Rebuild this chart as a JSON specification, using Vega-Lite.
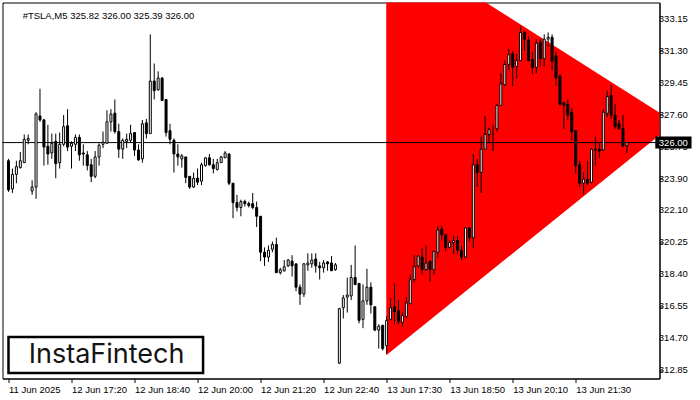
{
  "$schema": "https://vega.github.io/schema/vega-lite/v6.json",
  "width": 657,
  "height": 376,
  "autosize": {"type": "none"},
  "padding": {"left": 2.5, "top": 2.5, "right": 40.5, "bottom": 21.5},
  "background": "white",
  "config": {
    "view": {"stroke": "black", "strokeWidth": 1},
    "axis": {"labelFont": "Liberation Sans", "labelFontSize": 9.5, "labelColor": "black", "domainColor": "black", "tickColor": "black", "grid": false}
  },
  "datasets": {
    "candles": [
      {"i":0,"o":324.95,"h":325.06,"l":323.15,"c":323.26},
      {"i":1,"o":323.32,"h":324.50,"l":323.09,"c":324.16},
      {"i":2,"o":324.16,"h":324.95,"l":323.65,"c":324.61},
      {"i":3,"o":324.55,"h":325.45,"l":324.50,"c":324.95},
      {"i":4,"o":324.84,"h":326.47,"l":324.84,"c":326.19},
      {"i":5,"o":326.13,"h":326.47,"l":325.90,"c":326.24},
      {"i":6,"o":323.20,"h":323.82,"l":322.98,"c":323.43},
      {"i":7,"o":323.43,"h":327.76,"l":322.75,"c":327.65},
      {"i":8,"o":327.54,"h":329.11,"l":327.20,"c":327.31},
      {"i":9,"o":327.31,"h":327.37,"l":324.67,"c":325.74},
      {"i":10,"o":325.79,"h":327.03,"l":324.72,"c":325.34},
      {"i":11,"o":325.40,"h":326.52,"l":325.06,"c":325.96},
      {"i":12,"o":326.07,"h":326.52,"l":323.94,"c":324.78},
      {"i":13,"o":324.84,"h":326.58,"l":324.50,"c":325.90},
      {"i":14,"o":325.90,"h":327.59,"l":325.79,"c":326.92},
      {"i":15,"o":326.97,"h":327.93,"l":325.51,"c":325.74},
      {"i":16,"o":325.79,"h":326.07,"l":324.50,"c":325.96},
      {"i":17,"o":325.90,"h":326.47,"l":325.51,"c":326.30},
      {"i":18,"o":326.30,"h":326.47,"l":324.95,"c":325.29},
      {"i":19,"o":325.40,"h":325.90,"l":324.67,"c":325.34},
      {"i":20,"o":325.29,"h":325.51,"l":324.39,"c":324.67},
      {"i":21,"o":324.72,"h":325.06,"l":323.71,"c":324.05},
      {"i":22,"o":324.05,"h":325.51,"l":323.94,"c":325.17},
      {"i":23,"o":325.17,"h":325.96,"l":324.67,"c":325.85},
      {"i":24,"o":325.90,"h":326.64,"l":325.68,"c":326.02},
      {"i":25,"o":325.96,"h":327.87,"l":325.96,"c":327.20},
      {"i":26,"o":327.20,"h":327.93,"l":326.64,"c":327.65},
      {"i":27,"o":327.70,"h":328.49,"l":326.52,"c":326.64},
      {"i":28,"o":326.64,"h":327.09,"l":325.12,"c":325.62},
      {"i":29,"o":325.62,"h":326.24,"l":325.06,"c":326.13},
      {"i":30,"o":326.07,"h":326.52,"l":325.68,"c":326.19},
      {"i":31,"o":326.13,"h":327.03,"l":326.02,"c":326.52},
      {"i":32,"o":326.58,"h":326.58,"l":325.23,"c":325.57},
      {"i":33,"o":325.57,"h":325.90,"l":324.95,"c":325.00},
      {"i":34,"o":325.06,"h":327.31,"l":324.84,"c":327.09},
      {"i":35,"o":327.14,"h":327.37,"l":326.24,"c":326.52},
      {"i":36,"o":326.52,"h":332.26,"l":326.52,"c":329.56},
      {"i":37,"o":329.56,"h":330.57,"l":328.49,"c":329.00},
      {"i":38,"o":329.05,"h":330.12,"l":329.00,"c":329.73},
      {"i":39,"o":329.73,"h":329.78,"l":328.44,"c":328.44},
      {"i":40,"o":328.49,"h":328.49,"l":326.35,"c":326.58},
      {"i":41,"o":326.69,"h":327.09,"l":325.90,"c":326.19},
      {"i":42,"o":326.13,"h":326.24,"l":324.27,"c":325.34},
      {"i":43,"o":325.34,"h":325.90,"l":324.67,"c":325.17},
      {"i":44,"o":325.06,"h":325.34,"l":324.55,"c":325.23},
      {"i":45,"o":325.17,"h":325.17,"l":323.65,"c":323.99},
      {"i":46,"o":324.05,"h":324.05,"l":323.32,"c":323.43},
      {"i":47,"o":323.43,"h":324.27,"l":323.37,"c":323.94},
      {"i":48,"o":323.94,"h":324.50,"l":323.54,"c":323.71},
      {"i":49,"o":323.77,"h":324.84,"l":323.54,"c":324.72},
      {"i":50,"o":324.67,"h":325.17,"l":324.61,"c":325.12},
      {"i":51,"o":325.12,"h":325.34,"l":324.67,"c":324.72},
      {"i":52,"o":324.72,"h":325.06,"l":324.22,"c":324.50},
      {"i":53,"o":324.44,"h":325.06,"l":324.39,"c":324.84},
      {"i":54,"o":324.84,"h":325.23,"l":324.84,"c":325.17},
      {"i":55,"o":325.12,"h":325.51,"l":325.12,"c":325.40},
      {"i":56,"o":325.34,"h":325.40,"l":323.54,"c":323.65},
      {"i":57,"o":323.65,"h":323.65,"l":321.63,"c":322.53},
      {"i":58,"o":322.53,"h":322.98,"l":322.02,"c":322.25},
      {"i":59,"o":322.25,"h":322.70,"l":321.74,"c":322.59},
      {"i":60,"o":322.59,"h":322.70,"l":322.30,"c":322.47},
      {"i":61,"o":322.47,"h":322.59,"l":322.25,"c":322.36},
      {"i":62,"o":322.47,"h":323.09,"l":322.14,"c":322.25},
      {"i":63,"o":322.25,"h":322.59,"l":321.12,"c":321.74},
      {"i":64,"o":321.74,"h":321.74,"l":319.15,"c":319.66},
      {"i":65,"o":319.66,"h":319.94,"l":318.87,"c":319.38},
      {"i":66,"o":319.38,"h":320.05,"l":319.10,"c":319.77},
      {"i":67,"o":319.83,"h":320.28,"l":319.66,"c":320.11},
      {"i":68,"o":320.11,"h":320.50,"l":318.48,"c":318.48},
      {"i":69,"o":318.48,"h":318.76,"l":318.37,"c":318.65},
      {"i":70,"o":318.59,"h":319.21,"l":318.54,"c":318.82},
      {"i":71,"o":318.87,"h":319.27,"l":318.82,"c":319.21},
      {"i":72,"o":319.15,"h":319.49,"l":318.25,"c":318.87},
      {"i":73,"o":318.99,"h":318.99,"l":317.41,"c":317.64},
      {"i":74,"o":317.64,"h":317.80,"l":316.62,"c":317.24},
      {"i":75,"o":317.24,"h":319.04,"l":317.07,"c":318.99},
      {"i":76,"o":318.93,"h":319.60,"l":318.59,"c":319.04},
      {"i":77,"o":318.99,"h":319.60,"l":318.76,"c":319.21},
      {"i":78,"o":319.27,"h":319.60,"l":318.48,"c":318.87},
      {"i":79,"o":318.87,"h":319.10,"l":318.08,"c":318.76},
      {"i":80,"o":318.76,"h":319.21,"l":318.48,"c":319.04},
      {"i":81,"o":319.10,"h":319.15,"l":318.59,"c":318.99},
      {"i":82,"o":319.04,"h":319.44,"l":318.59,"c":318.59},
      {"i":83,"o":318.65,"h":319.04,"l":318.59,"c":318.93},
      {"i":84,"o":313.25,"h":316.45,"l":313.20,"c":316.40},
      {"i":85,"o":316.45,"h":317.19,"l":315.83,"c":317.02},
      {"i":86,"o":317.07,"h":318.20,"l":316.17,"c":317.19},
      {"i":87,"o":317.13,"h":318.93,"l":316.90,"c":318.20},
      {"i":88,"o":318.20,"h":320.05,"l":317.75,"c":317.80},
      {"i":89,"o":317.86,"h":317.86,"l":315.55,"c":315.72},
      {"i":90,"o":315.78,"h":317.80,"l":315.27,"c":316.85},
      {"i":91,"o":316.85,"h":318.70,"l":316.62,"c":317.64},
      {"i":92,"o":317.64,"h":317.92,"l":316.12,"c":316.62},
      {"i":93,"o":316.51,"h":316.51,"l":315.10,"c":315.16},
      {"i":94,"o":315.16,"h":315.50,"l":314.09,"c":315.38},
      {"i":95,"o":315.44,"h":315.44,"l":313.98,"c":314.09},
      {"i":96,"o":314.26,"h":315.95,"l":313.81,"c":315.72},
      {"i":97,"o":315.78,"h":317.02,"l":315.72,"c":316.45},
      {"i":98,"o":316.51,"h":317.86,"l":315.50,"c":316.23},
      {"i":99,"o":316.28,"h":316.90,"l":315.50,"c":315.67},
      {"i":100,"o":315.61,"h":316.23,"l":315.38,"c":316.00},
      {"i":101,"o":315.95,"h":317.07,"l":315.83,"c":316.73},
      {"i":102,"o":316.68,"h":318.37,"l":316.68,"c":318.08},
      {"i":103,"o":318.08,"h":319.49,"l":317.92,"c":318.82},
      {"i":104,"o":318.87,"h":319.49,"l":318.76,"c":319.44},
      {"i":105,"o":319.38,"h":319.89,"l":318.37,"c":318.65},
      {"i":106,"o":318.65,"h":320.05,"l":318.59,"c":319.04},
      {"i":107,"o":319.15,"h":319.15,"l":317.97,"c":318.65},
      {"i":108,"o":318.65,"h":319.72,"l":318.37,"c":319.72},
      {"i":109,"o":319.66,"h":321.18,"l":319.32,"c":320.95},
      {"i":110,"o":321.01,"h":321.18,"l":320.34,"c":320.67},
      {"i":111,"o":320.67,"h":320.73,"l":319.72,"c":319.94},
      {"i":112,"o":319.94,"h":320.34,"l":319.89,"c":320.22},
      {"i":113,"o":320.22,"h":320.62,"l":319.55,"c":320.34},
      {"i":114,"o":320.34,"h":320.62,"l":319.55,"c":319.77},
      {"i":115,"o":319.77,"h":320.05,"l":319.21,"c":319.38},
      {"i":116,"o":319.38,"h":321.12,"l":319.32,"c":321.07},
      {"i":117,"o":321.07,"h":321.07,"l":320.28,"c":320.50},
      {"i":118,"o":320.50,"h":325.34,"l":319.89,"c":324.72},
      {"i":119,"o":324.72,"h":325.06,"l":323.43,"c":324.27},
      {"i":120,"o":324.27,"h":326.35,"l":323.09,"c":325.62},
      {"i":121,"o":325.62,"h":327.54,"l":325.62,"c":326.47},
      {"i":122,"o":326.47,"h":326.86,"l":325.96,"c":326.75},
      {"i":123,"o":326.47,"h":327.03,"l":325.51,"c":326.47},
      {"i":124,"o":326.80,"h":328.21,"l":326.64,"c":328.15},
      {"i":125,"o":328.15,"h":330.01,"l":328.15,"c":329.39},
      {"i":126,"o":329.34,"h":330.74,"l":329.28,"c":330.52},
      {"i":127,"o":330.52,"h":331.42,"l":330.18,"c":331.08},
      {"i":128,"o":331.14,"h":331.30,"l":329.28,"c":330.35},
      {"i":129,"o":330.40,"h":331.14,"l":329.73,"c":330.74},
      {"i":130,"o":330.74,"h":332.71,"l":330.74,"c":332.37},
      {"i":131,"o":332.37,"h":332.43,"l":331.30,"c":331.98},
      {"i":132,"o":331.92,"h":332.15,"l":330.69,"c":330.74},
      {"i":133,"o":330.80,"h":331.25,"l":329.96,"c":330.35},
      {"i":134,"o":330.35,"h":331.98,"l":330.01,"c":331.75},
      {"i":135,"o":331.81,"h":331.98,"l":330.40,"c":330.85},
      {"i":136,"o":330.85,"h":332.26,"l":330.40,"c":331.98},
      {"i":137,"o":331.98,"h":332.37,"l":331.53,"c":332.09},
      {"i":138,"o":332.09,"h":332.26,"l":330.18,"c":330.69},
      {"i":139,"o":331.02,"h":331.25,"l":329.28,"c":329.73},
      {"i":140,"o":329.84,"h":329.96,"l":328.15,"c":328.21},
      {"i":141,"o":328.32,"h":328.32,"l":326.80,"c":328.15},
      {"i":142,"o":328.21,"h":328.49,"l":327.31,"c":327.59},
      {"i":143,"o":327.76,"h":327.99,"l":326.13,"c":326.64},
      {"i":144,"o":326.69,"h":326.69,"l":324.22,"c":324.67},
      {"i":145,"o":324.72,"h":324.95,"l":323.43,"c":323.65},
      {"i":146,"o":323.65,"h":324.27,"l":322.98,"c":323.88},
      {"i":147,"o":323.88,"h":324.95,"l":323.54,"c":323.65},
      {"i":148,"o":323.71,"h":325.68,"l":323.65,"c":325.62},
      {"i":149,"o":325.57,"h":326.35,"l":324.67,"c":325.62},
      {"i":150,"o":325.62,"h":325.96,"l":325.12,"c":325.51},
      {"i":151,"o":325.57,"h":327.93,"l":325.51,"c":327.76},
      {"i":152,"o":327.70,"h":329.00,"l":327.48,"c":328.66},
      {"i":153,"o":328.72,"h":329.34,"l":327.37,"c":327.59},
      {"i":154,"o":327.59,"h":328.21,"l":326.80,"c":326.92},
      {"i":155,"o":327.09,"h":327.31,"l":326.75,"c":326.80},
      {"i":156,"o":326.80,"h":327.59,"l":325.74,"c":325.79},
      {"i":157,"o":325.82,"h":326.00,"l":325.39,"c":326.00}
    ],
    "triangle": [
      {"i": 95.9, "lo": 313.70, "hi": 337.75},
      {"i": 169.25, "lo": 327.16, "hi": 327.16}
    ],
    "yticks": [
      {"v": 312.85}, {"v": 314.70}, {"v": 316.55}, {"v": 318.40}, {"v": 320.25}, {"v": 322.10},
      {"v": 323.90}, {"v": 325.75}, {"v": 327.60}, {"v": 329.45}, {"v": 331.30}, {"v": 333.15}
    ],
    "bid": [{"p": 326.00, "label": "326.00"}],
    "logo": [{"name": "InstaFintech"}],
    "header": [{"t": "#TSLA,M5  325.82 326.00 325.39 326.00"}]
  },
  "layer": [
    {
      "data": {"name": "triangle"},
      "mark": {"type": "area", "color": "#ff0000", "clip": true, "opacity": 1},
      "encoding": {
        "x": {"field": "i", "type": "quantitative", "title": null,
              "scale": {"domain": [-0.25, 164], "nice": false, "zero": false},
              "axis": {"values": [0,16,32,48,64,80,96,112,128,144], "labelExpr": "['11 Jun 2025','12 Jun 17:20','12 Jun 18:40','12 Jun 20:00','12 Jun 21:20','12 Jun 22:40','13 Jun 17:30','13 Jun 18:50','13 Jun 20:10','13 Jun 21:30'][round(datum.value/16)]", "labelAlign": "left", "labelFlush": false, "labelOverlap": false, "tickSize": 4, "labelPadding": 2, "labelBaseline": "top", "title": null}},
        "y": {"field": "lo", "type": "quantitative", "title": null,
              "scale": {"domain": [312.65, 333.81], "nice": false, "zero": false},
              "axis": {"orient": "right", "values": [312.85,314.70,316.55,318.40,320.25,322.10,323.90,325.75,327.60,329.45,331.30,333.15], "labels": false, "tickSize": 3, "title": null}},
        "y2": {"field": "hi"}
      }
    },
    {
      "data": {"name": "bid"},
      "mark": {"type": "rule", "color": "black", "strokeWidth": 1},
      "encoding": {
        "y": {"field": "p", "type": "quantitative", "title": null}
      }
    },
    {
      "data": {"name": "candles"},
      "mark": {"type": "rule", "color": "black", "strokeWidth": 1},
      "encoding": {
        "x": {"field": "i", "type": "quantitative", "title": null},
        "y": {"field": "l", "type": "quantitative", "title": null},
        "y2": {"field": "h"}
      }
    },
    {
      "data": {"name": "candles"},
      "mark": {"type": "bar", "width": 2, "stroke": "black", "strokeWidth": 1},
      "encoding": {
        "x": {"field": "i", "type": "quantitative", "title": null},
        "y": {"field": "o", "type": "quantitative", "title": null},
        "y2": {"field": "c"},
        "fill": {"condition": {"test": "datum.c >= datum.o", "value": "white"}, "value": "black"}
      }
    },
    {
      "data": {"name": "logo"},
      "mark": {"type": "rect", "fill": "white", "stroke": "black", "strokeWidth": 2.5},
      "encoding": {
        "x": {"datum": 0, "type": "quantitative", "title": null},
        "x2": {"datum": 49.4},
        "y": {"datum": 312.68, "type": "quantitative", "title": null},
        "y2": {"datum": 314.76}
      }
    },
    {
      "data": {"name": "logo"},
      "mark": {"type": "text", "font": "Inter", "fontSize": 27, "fontWeight": 400, "color": "#141414", "align": "center", "baseline": "middle"},
      "encoding": {
        "x": {"datum": 24.9, "type": "quantitative", "title": null},
        "y": {"datum": 313.72, "type": "quantitative", "title": null},
        "text": {"field": "name"}
      }
    },
    {
      "data": {"name": "header"},
      "mark": {"type": "text", "font": "Liberation Sans", "fontSize": 9.5, "color": "black", "align": "left", "baseline": "middle"},
      "encoding": {
        "x": {"datum": 3.6, "type": "quantitative", "title": null},
        "y": {"datum": 333.33, "type": "quantitative", "title": null},
        "text": {"field": "t"}
      }
    },
    {
      "data": {"name": "yticks"},
      "mark": {"type": "text", "font": "Liberation Sans", "fontSize": 9.5, "color": "black", "align": "left", "baseline": "middle", "clip": false},
      "encoding": {
        "x": {"datum": 165.1, "type": "quantitative", "title": null},
        "y": {"field": "v", "type": "quantitative", "title": null},
        "text": {"field": "v", "type": "quantitative", "format": ".2f"}
      }
    },
    {
      "data": {"name": "bid"},
      "mark": {"type": "bar", "color": "black", "size": 12, "clip": false, "orient": "horizontal"},
      "encoding": {
        "x": {"datum": 164.2, "type": "quantitative", "title": null},
        "x2": {"datum": 173.4},
        "y": {"field": "p", "type": "quantitative", "title": null}
      }
    },
    {
      "data": {"name": "bid"},
      "mark": {"type": "text", "font": "Liberation Sans", "fontSize": 9.5, "color": "white", "align": "left", "baseline": "middle", "clip": false},
      "encoding": {
        "x": {"datum": 165.1, "type": "quantitative", "title": null},
        "y": {"field": "p", "type": "quantitative", "title": null},
        "text": {"field": "label"}
      }
    }
  ]
}
